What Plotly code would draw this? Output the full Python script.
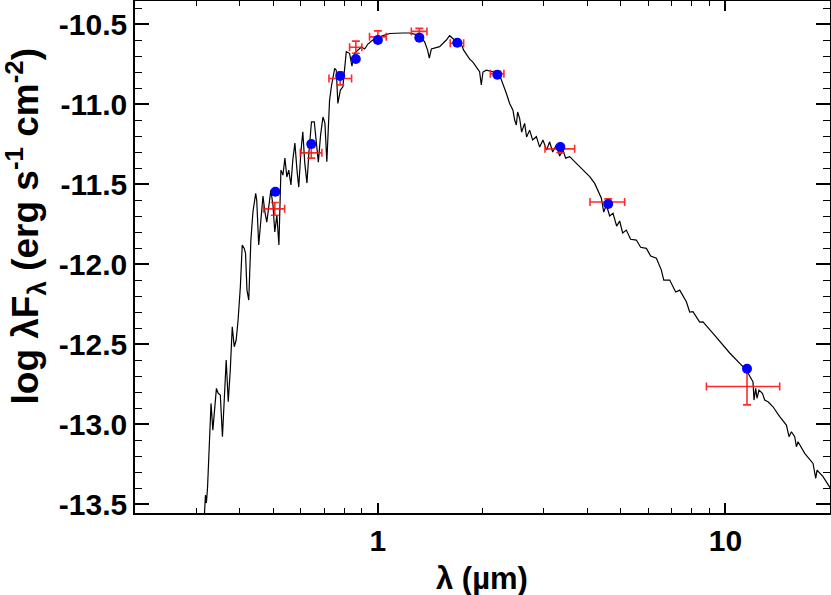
import plotly.graph_objects as go

# Model spectrum (wavelength in micron, log lambda*F_lambda)
spec_wl = [0.313, 0.317, 0.319, 0.321, 0.3235, 0.326, 0.331, 0.335, 0.338, 0.343,
           0.347, 0.352, 0.357, 0.361, 0.366, 0.371, 0.376, 0.381, 0.386, 0.391,
           0.396, 0.402, 0.407, 0.4125, 0.416, 0.420, 0.425, 0.431, 0.437, 0.445,
           0.448, 0.454, 0.461, 0.467, 0.473, 0.479, 0.486, 0.492, 0.499, 0.505,
           0.512, 0.519, 0.526, 0.533, 0.540, 0.547, 0.554, 0.562, 0.569, 0.577,
           0.585, 0.592, 0.600, 0.608, 0.616, 0.625, 0.633, 0.644, 0.656, 0.665,
           0.674, 0.684, 0.695, 0.704, 0.713, 0.726, 0.736, 0.751, 0.759, 0.767,
           0.780, 0.793, 0.811, 0.829, 0.842, 0.857, 0.876, 0.896, 0.916, 0.936,
           0.967, 1.000, 1.034, 1.081, 1.130, 1.180, 1.234, 1.290, 1.327, 1.363,
           1.390, 1.406, 1.425, 1.456, 1.505, 1.574, 1.608, 1.662, 1.738, 1.765,
           1.797, 1.837, 1.877, 1.936, 1.962, 1.984, 2.006, 2.051, 2.143, 2.240,
           2.290, 2.342, 2.394, 2.447, 2.475, 2.503, 2.524, 2.558, 2.592, 2.644,
           2.679, 2.733, 2.788, 2.858, 2.921, 2.985, 3.059, 3.120, 3.184, 3.262,
           3.335, 3.409, 3.470, 3.564, 3.726, 3.892, 4.069, 4.206, 4.299, 4.397,
           4.465, 4.545, 4.645, 4.749, 4.865, 4.963, 5.063, 5.188, 5.337, 5.543,
           5.703, 5.923, 6.095, 6.330, 6.543, 6.648, 6.915, 7.193, 7.388, 7.722,
           7.893, 8.067, 8.433, 8.620, 9.212, 9.842, 10.29, 10.995, 11.491, 12.006,
           12.087, 12.224, 12.331, 12.494, 12.780, 12.975, 13.262, 13.709, 14.332, 14.983,
           15.244, 15.488, 15.831, 16.010, 16.181, 16.916, 17.872, 18.197, 18.354, 19.096,
           19.740, 20.37]
spec_flux = [-13.66, -13.556, -13.444, -13.494, -13.394, -13.204, -12.871, -13.038, -12.954, -12.777,
             -12.808, -12.819, -13.079, -12.892, -12.600, -12.861, -12.663, -12.392, -12.517, -12.475,
             -12.350, -12.142, -11.881, -11.902, -11.933, -12.163, -12.225, -11.85, -11.673, -11.558,
             -11.600, -11.881, -11.713, -11.575, -11.675, -11.738, -11.631, -11.538, -11.631, -11.800,
             -11.694, -11.881, -11.413, -11.444, -11.338, -11.456, -11.413, -11.506, -11.350, -11.244,
             -11.413, -11.519, -11.306, -11.173, -11.369, -11.494, -11.306, -11.111, -11.111, -11.244,
             -11.363, -11.194, -11.081, -11.119, -11.361, -10.975, -10.881, -10.777, -10.788, -10.996,
             -10.913, -10.892, -10.673, -10.683, -10.763, -10.681, -10.663, -10.644, -10.656, -10.625,
             -10.600, -10.584, -10.572, -10.559, -10.556, -10.556, -10.556, -10.566, -10.581, -10.611,
             -10.663, -10.713, -10.656, -10.650, -10.641, -10.600, -10.573, -10.600, -10.625, -10.663,
             -10.688, -10.719, -10.738, -10.775, -10.798, -10.881, -10.800, -10.788, -10.798, -10.819,
             -10.871, -10.933, -10.996, -11.038, -11.100, -11.131, -11.050, -11.089, -11.175, -11.121,
             -11.206, -11.163, -11.225, -11.204, -11.269, -11.225, -11.288, -11.236, -11.300, -11.256,
             -11.325, -11.288, -11.338, -11.329, -11.371, -11.413, -11.454, -11.496, -11.538, -11.589,
             -11.675, -11.631, -11.700, -11.683, -11.763, -11.731, -11.806, -11.788, -11.845, -11.850,
             -11.895, -11.902, -11.950, -11.964, -12.038, -12.100, -12.100, -12.175, -12.163, -12.236,
             -12.300, -12.298, -12.363, -12.361, -12.433, -12.506, -12.556, -12.621, -12.663, -12.736,
             -12.850, -12.777, -12.839, -12.788, -12.808, -12.850, -12.861, -12.892, -12.954, -13.006,
             -13.079, -13.048, -13.079, -13.142, -13.111, -13.183, -13.246, -13.339, -13.288, -13.329,
             -13.381, -13.425]

# Observed photometry (red, with error bars)
obs_wl = [0.505, 0.643, 0.779, 0.864, 1.000, 1.316, 1.692, 2.207, 3.35, 4.60, 11.54]
obs_wl_lo = [0.469, 0.598, 0.723, 0.829, 0.946, 1.248, 1.615, 2.107, 3.026, 4.077, 8.82]
obs_wl_hi = [0.539, 0.690, 0.840, 0.899, 1.057, 1.384, 1.765, 2.305, 3.683, 5.130, 14.33]
obs_flux = [-11.655, -11.305, -10.840, -10.645, -10.580, -10.546, -10.620, -10.810, -11.280, -11.6125, -12.765]
obs_flux_err = [0.040, 0.033, 0.040, 0.038, 0.037, 0.019, 0.015, 0.015, 0.024, 0.020, 0.115]

# Synthetic model photometry (blue)
mod_wl = [0.507, 0.643, 0.779, 0.864, 1.000, 1.316, 1.692, 2.207, 3.35, 4.60, 11.54]
mod_flux = [-11.548, -11.250, -10.825, -10.719, -10.600, -10.585, -10.617, -10.817, -11.269, -11.625, -12.654]

y_ticks = [-10.5, -11.0, -11.5, -12.0, -12.5, -13.0, -13.5]
y_ticktext = ["-10.5", "-11.0", "-11.5", "-12.0", "-12.5", "-13.0", "-13.5"]
x_ticks = [1, 10]
x_ticktext = ["1", "10"]
x_minor = [0.3, 0.4, 0.5, 0.6, 0.7, 0.8, 0.9, 2, 3, 4, 5, 6, 7, 8, 9]
y_minor = [round(-10.4 - 0.1 * i, 1) for i in range(32)]

x_title = "λ (µm)"
y_title = "log λF<sub>λ</sub> (erg s<sup>-1</sup> cm<sup>-2</sup>)"

FONT = "Liberation Sans, Arial, Helvetica, sans-serif"

fig = go.Figure()
fig.add_trace(go.Scatter(x=spec_wl, y=spec_flux, mode="lines",
                         line=dict(color="black", width=1.2), showlegend=False,
                         hoverinfo="skip"))
fig.add_trace(go.Scatter(
    x=obs_wl, y=obs_flux, mode="markers",
    marker=dict(size=1, color="rgba(0,0,0,0)"),
    error_x=dict(type="data", symmetric=False,
                 array=[h - w for h, w in zip(obs_wl_hi, obs_wl)],
                 arrayminus=[w - l for w, l in zip(obs_wl, obs_wl_lo)],
                 color="rgba(255,20,20,0.9)", thickness=1.6, width=4),
    error_y=dict(type="data", array=obs_flux_err,
                 color="rgba(255,20,20,0.9)", thickness=1.6, width=4),
    showlegend=False))
fig.add_trace(go.Scatter(x=mod_wl, y=mod_flux, mode="markers",
                         marker=dict(size=10, color="rgb(0,0,255)"),
                         showlegend=False))

fig.update_layout(
    width=831, height=595,
    margin=dict(l=135, r=1, t=1, b=82, autoexpand=False),
    paper_bgcolor="white", plot_bgcolor="white",
    font=dict(family=FONT, color="black"),
    annotations=[
        dict(text=y_title, textangle=-90, xref="paper", yref="paper",
             x=-0.158, y=0.56, xanchor="center", yanchor="middle", showarrow=False,
             font=dict(family=FONT, size=37, weight="bold")),
        dict(text=x_title, xref="paper", yref="paper",
             x=0.499, y=-0.127, xanchor="center", yanchor="middle", showarrow=False,
             font=dict(family=FONT, size=31, weight="bold")),
    ],
)
fig.update_xaxes(
    type="log", range=[-0.69897, 1.30103], automargin=False,
    showgrid=False, zeroline=False,
    showline=True, linecolor="black", linewidth=1.5, mirror="allticks",
    ticks="inside", ticklen=10, tickwidth=1.5, tickcolor="black",
    tickmode="array", tickvals=x_ticks, ticktext=x_ticktext,
    tickfont=dict(family=FONT, size=30, weight="bold"),
    minor=dict(ticks="inside", ticklen=5, tickwidth=1.3, tickcolor="black",
               tickmode="array", tickvals=x_minor, showgrid=False),
)
fig.update_yaxes(
    range=[-13.556, -10.356], automargin=False,
    showgrid=False, zeroline=False,
    showline=True, linecolor="black", linewidth=1.5, mirror="allticks",
    ticks="inside", ticklen=14, tickwidth=1.5, tickcolor="black",
    tickmode="array", tickvals=y_ticks, ticktext=y_ticktext,
    tickfont=dict(family=FONT, size=30, weight="bold"),
    minor=dict(ticks="inside", ticklen=7, tickwidth=1.3, tickcolor="black",
               tickmode="array", tickvals=y_minor, showgrid=False),
)

fig.write_html("out.html", config={"displayModeBar": False},
               post_script="document.body.style.margin='0px';")
